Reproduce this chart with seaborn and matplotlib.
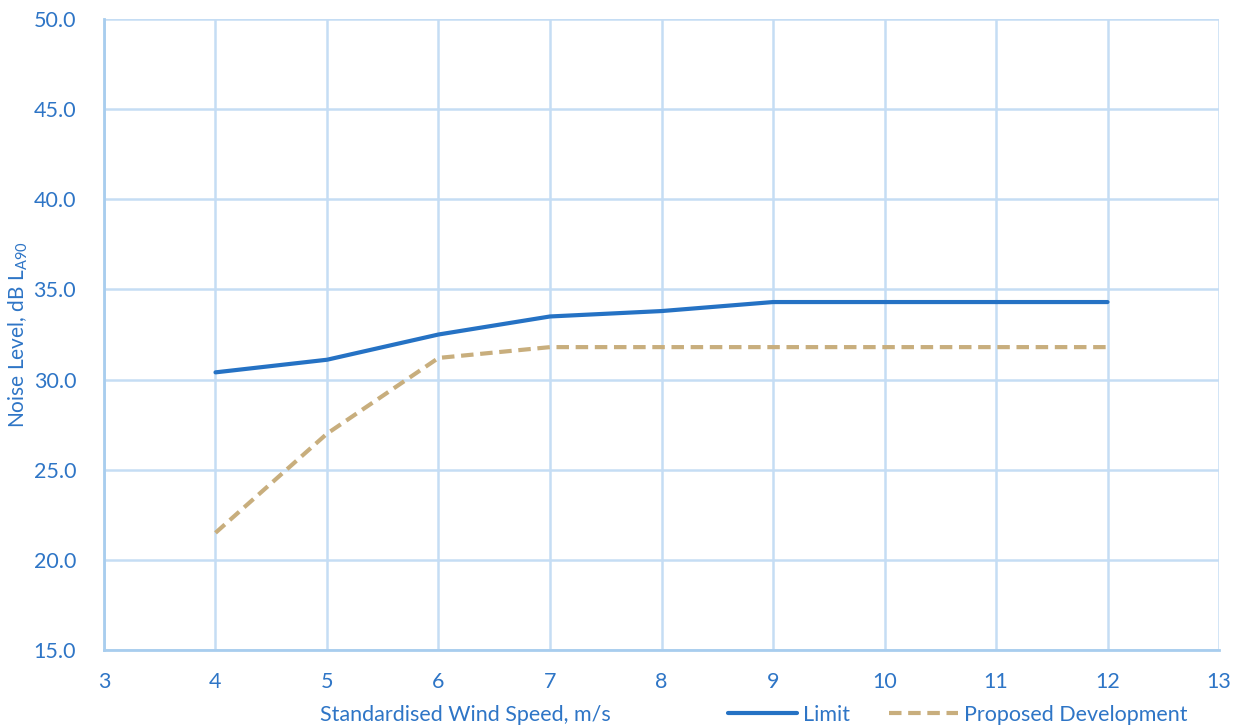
import matplotlib
matplotlib.use("Agg")
import matplotlib.pyplot as plt
import seaborn as sns
import pandas as pd
import numpy as np
from matplotlib.lines import Line2D

wind_speed = [4, 5, 6, 7, 8, 9, 10, 11, 12]
limit = [30.4, 31.1, 32.5, 33.5, 33.8, 34.3, 34.3, 34.3, 34.3]
proposed = [21.5, 27.0, 31.2, 31.8, 31.8, 31.8, 31.8, 31.8, 31.8]
x_ticks = list(range(3, 14))
y_ticks = [15.0, 20.0, 25.0, 30.0, 35.0, 40.0, 45.0, 50.0]

sns.set_theme(style="white")
plt.rcParams['font.family'] = ['Lato', 'DejaVu Sans']

blue_text = "#2E75C6"
grid_col = "#C5DDF4"
limit_col = "#2572C4"
prop_col = "#C8AE7D"

df = pd.DataFrame({"Wind": wind_speed * 2,
                   "Level": limit + proposed,
                   "Series": ["Limit"] * len(wind_speed) + ["Proposed Development"] * len(wind_speed)})

fig = plt.figure(figsize=(12.42, 7.26), dpi=100)
ax = fig.add_axes([104/1242, 1 - 650/726, (1219-104)/1242, (650-19)/726])

sns.lineplot(data=df, x="Wind", y="Level", hue="Series", style="Series",
             palette={"Limit": limit_col, "Proposed Development": prop_col},
             dashes={"Limit": "", "Proposed Development": (3, 1.6)},
             linewidth=3, ax=ax, legend=False)

ax.set_xlim(3, 13)
ax.set_ylim(15, 50)
ax.set_xticks(x_ticks)
ax.set_yticks(y_ticks)
ax.set_yticklabels([f"{v:.1f}" for v in y_ticks])
ax.grid(True, color=grid_col, linewidth=1.8)
ax.set_axisbelow(True)
for s in ["top", "right"]:
    ax.spines[s].set_visible(False)
for s in ["left", "bottom"]:
    ax.spines[s].set_color("#A8CDEE")
    ax.spines[s].set_linewidth(2)
ax.tick_params(axis="y", colors=blue_text, labelsize=15.5, length=0, pad=20)
ax.tick_params(axis="x", colors=blue_text, labelsize=15.5, length=0, pad=16)
for lab in ax.get_xticklabels() + ax.get_yticklabels():
    lab.set_color(blue_text)

ax.set_xlabel("")
ax.set_ylabel(r"Noise Level, dB L$_{\mathregular{A90}}$", color=blue_text, fontsize=15)
ax.yaxis.set_label_coords((30 - 104) / 1115, 0.5)
fig.text(465/1242, 1 - 715/726, "Standardised Wind Speed, m/s", color=blue_text,
         fontsize=15.5, ha="center", va="center")

handles = [Line2D([0], [0], color=limit_col, lw=3),
           Line2D([0], [0], color=prop_col, lw=3, dashes=(3, 1.6))]
leg = fig.legend(handles, ["Limit", "Proposed Development"], loc="center",
                 bbox_to_anchor=(958/1242, 1 - 715/726), ncol=2, frameon=False,
                 fontsize=15.5, handlelength=3.2, columnspacing=1.8, handletextpad=0.3)
for t in leg.get_texts():
    t.set_color(blue_text)

fig.savefig("out.png", dpi=100)
